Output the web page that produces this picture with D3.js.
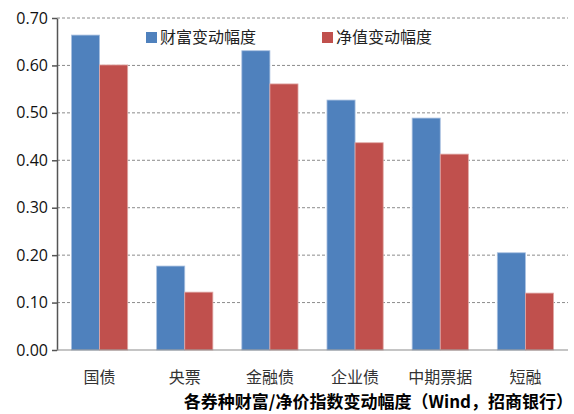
<!DOCTYPE html>
<html>
<head>
<meta charset="utf-8">
<script src="https://cdn.jsdelivr.net/npm/d3@7/dist/d3.min.js"></script>
<style>
  body { margin: 0; background: #fff; }
</style>
</head>
<body>
<div id="chart"></div>
<script>
const categories = ["国债", "央票", "金融债", "企业债", "中期票据", "短融"];
const seriesNames = ["财富变动幅度", "净值变动幅度"];
const wealthValues = [0.664, 0.177, 0.631, 0.527, 0.489, 0.205];
const netValues = [0.601, 0.122, 0.561, 0.437, 0.413, 0.120];
const yTicks = [0, 0.1, 0.2, 0.3, 0.4, 0.5, 0.6, 0.7];
const colors = ["#4F81BD", "#C0504D"];

const W = 574, H = 414;
const margin = {top: 18, right: 6, bottom: 64, left: 57};
const width = W - margin.left - margin.right;
const height = H - margin.top - margin.bottom;

const svg = d3.select("#chart").append("svg")
  .attr("width", W).attr("height", H);
const g = svg.append("g")
  .attr("transform", `translate(${margin.left},${margin.top})`);

const x = d3.scaleBand().domain(categories).range([0, width]).paddingInner(0.34).paddingOuter(0.17);
const xs = d3.scaleBand().domain(seriesNames).range([0, x.bandwidth()]);
const y = d3.scaleLinear().domain([0, 0.7]).range([height, 0]);

// gridlines
g.append("g").selectAll("line")
  .data(yTicks.filter(d => d > 0))
  .enter().append("line")
  .attr("x1", 0).attr("x2", width)
  .attr("y1", d => y(d)).attr("y2", d => y(d))
  .attr("stroke", "#8c8c8c").attr("stroke-width", 1)
  .attr("stroke-dasharray", "3,2");

// bars
const rows = categories.map((c, i) => ({cat: c, vals: [wealthValues[i], netValues[i]]}));
const groups = g.selectAll(".grp").data(rows).enter().append("g")
  .attr("transform", d => `translate(${x(d.cat)},0)`);
groups.selectAll("rect")
  .data(d => d.vals.map((v, k) => ({name: seriesNames[k], v: v, k: k})))
  .enter().append("rect")
  .attr("x", d => xs(d.name))
  .attr("y", d => y(d.v))
  .attr("width", xs.bandwidth())
  .attr("height", d => height - y(d.v))
  .attr("fill", d => colors[d.k])
  .attr("stroke", d => d.k === 0 ? "#a9c0e0" : "#e0a8a6")
  .attr("stroke-width", 0.8);

// y axis
const yAxis = g.append("g")
  .call(d3.axisLeft(y).tickValues(yTicks).tickFormat(d3.format(".2f")).tickSize(5).tickSizeOuter(0));
yAxis.select(".domain").attr("stroke", "#555").attr("stroke-width", 1.5);
yAxis.selectAll(".tick line").attr("stroke", "#555").attr("stroke-width", 1.5);
yAxis.selectAll("text")
  .attr("x", -9)
  .style("font-family", "'Open Sans', 'Liberation Sans', sans-serif")
  .style("font-size", "16px")
  .attr("fill", "#111");

// x axis line
g.append("line")
  .attr("x1", 0).attr("x2", width)
  .attr("y1", height).attr("y2", height)
  .attr("stroke", "#8c8c8c").attr("stroke-width", 1.2);

// x labels
g.append("g").selectAll("text")
  .data(categories).enter().append("text")
  .attr("x", d => x(d) + x.bandwidth() / 2)
  .attr("y", height + 33)
  .attr("text-anchor", "middle")
  .style("font-family", "'Noto Sans CJK SC', sans-serif")
  .style("font-size", "16px")
  .attr("fill", "#333")
  .text(d => d);

// legend
const legendX = [146, 322];
const legend = svg.append("g").selectAll("g")
  .data(seriesNames).enter().append("g")
  .attr("transform", (d, i) => `translate(${legendX[i]},32)`);
legend.append("rect")
  .attr("width", 11).attr("height", 11)
  .attr("fill", (d, i) => colors[i]);
legend.append("text")
  .attr("x", 14).attr("y", 11)
  .style("font-family", "'Noto Sans CJK SC', sans-serif")
  .style("font-size", "16px")
  .attr("fill", "#222")
  .text(d => d);

// title / source
svg.append("text")
  .attr("x", 573).attr("y", 408)
  .attr("text-anchor", "end")
  .style("font-family", "'Noto Sans CJK SC', sans-serif")
  .style("font-size", "17px")
  .style("font-weight", "bold")
  .attr("fill", "#000")
  .text("各券种财富/净价指数变动幅度（Wind，招商银行）");
</script>
</body>
</html>
